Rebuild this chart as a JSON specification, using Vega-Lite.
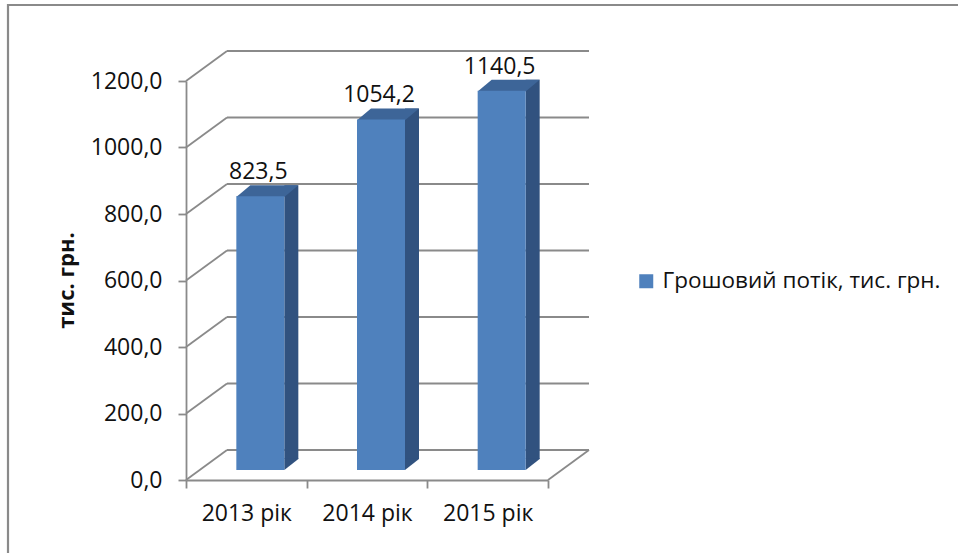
{
  "$schema": "https://vega.github.io/schema/vega-lite/v6.json",
  "autosize": {"type": "none"},
  "width": 950,
  "height": 548,
  "padding": {"left": 8, "top": 5, "right": 0, "bottom": 0},
  "background": "white",
  "view": {"fill": "white", "stroke": "#8a8a8a", "strokeWidth": 2.2, "strokeDash": [950, 1498, 548]},
  "config": {
    "locale": {"number": {"decimal": ",", "thousands": " ", "grouping": [3], "currency": ["", " грн."]}},
    "font": "Open Sans",
    "axis": {"labelFont": "Open Sans", "titleFont": "Open Sans"},
    "legend": {"labelFont": "Open Sans"}
  },
  "datasets": {
    "flows": [
      {"year": "2013 рік", "value": 823.5},
      {"year": "2014 рік", "value": 1054.2},
      {"year": "2015 рік", "value": 1140.5}
    ],
    "ticks": [
      {"v": 0}, {"v": 200}, {"v": 400}, {"v": 600}, {"v": 800}, {"v": 1000}, {"v": 1200}
    ]
  },
  "encoding": {
    "x": {
      "field": "year",
      "type": "nominal",
      "sort": null,
      "scale": {"type": "band", "domain": ["2013 рік", "2014 рік", "2015 рік"], "range": [178, 540], "paddingInner": 0, "paddingOuter": 0},
      "axis": {
        "title": null,
        "offset": -73,
        "grid": false,
        "tickBand": "extent",
        "tickSize": 8,
        "tickWidth": 1.8,
        "tickColor": "#8a8a8a",
        "domainColor": "#8a8a8a",
        "domainWidth": 1.8,
        "labelFontSize": 23,
        "labelColor": "#111111",
        "labelPadding": 14,
        "labelAngle": 0
      }
    },
    "y": {
      "type": "quantitative",
      "scale": {"domain": [0, 1200], "range": [475, 76], "nice": false, "zero": true},
      "axis": {
        "title": "тис. грн.",
        "offset": -178,
        "grid": false,
        "values": [0, 200, 400, 600, 800, 1000, 1200],
        "format": ".1f",
        "tickSize": 8,
        "tickWidth": 1.8,
        "tickColor": "#8a8a8a",
        "domainColor": "#8a8a8a",
        "domainWidth": 1.8,
        "labelFontSize": 23,
        "labelColor": "#111111",
        "labelPadding": 16,
        "titleFontSize": 22,
        "titleFontWeight": "bold",
        "titleColor": "#111111",
        "titleX": -120,
        "titleY": 275,
        "titleAngle": 270,
        "titleAlign": "center",
        "titleBaseline": "middle"
      }
    }
  },
  "layer": [
    {
      "data": {"name": "ticks"},
      "mark": {"type": "rule", "color": "#8a8a8a", "strokeWidth": 1.8, "xOffset": 41, "x2Offset": 41, "yOffset": -30},
      "encoding": {
        "x": {"datum": "2013 рік", "bandPosition": 0},
        "x2": {"datum": "2015 рік", "bandPosition": 1},
        "y": {"field": "v", "type": "quantitative"}
      }
    },
    {
      "data": {"name": "ticks"},
      "mark": {"type": "rule", "color": "#8a8a8a", "strokeWidth": 1.8, "x2Offset": 41, "y2Offset": -30},
      "encoding": {
        "x": {"datum": "2013 рік", "bandPosition": 0},
        "x2": {"datum": "2013 рік", "bandPosition": 0},
        "y": {"field": "v", "type": "quantitative"},
        "y2": {"field": "v"}
      }
    },
    {
      "data": {"name": "ticks"},
      "transform": [{"filter": "datum.v === 0"}],
      "mark": {"type": "rule", "color": "#8a8a8a", "strokeWidth": 1.8, "x2Offset": 41, "y2Offset": -30},
      "encoding": {
        "x": {"datum": "2015 рік", "bandPosition": 1},
        "x2": {"datum": "2015 рік", "bandPosition": 1},
        "y": {"field": "v", "type": "quantitative"},
        "y2": {"field": "v"}
      }
    },
    {
      "data": {"name": "flows"},
      "mark": {"type": "bar", "color": "#31527F", "size": 14, "xOffset": 45, "yOffset": -21, "y2Offset": -21},
      "encoding": {
        "y": {"field": "value", "type": "quantitative"},
        "y2": {"datum": 0}
      }
    },
    {
      "data": {"name": "flows"},
      "mark": {"type": "point", "shape": "M-1,-0.9L1,-0.9L1,-0.786L-1,0.786Z", "filled": true, "opacity": 1, "strokeWidth": 0, "color": "#31527F", "size": 196, "xOffset": 45, "yOffset": -15.5},
      "encoding": {
        "y": {"datum": 0}
      }
    },
    {
      "data": {"name": "flows"},
      "mark": {"type": "point", "shape": "M-1,0.2L0.5484,0.2L1,-0.1774L-0.5484,-0.1774Z", "filled": true, "opacity": 1, "strokeWidth": 0, "color": "#3D6598", "size": 3844, "xOffset": 21, "yOffset": -15.5},
      "encoding": {
        "y": {"field": "value", "type": "quantitative"}
      }
    },
    {
      "data": {"name": "flows"},
      "mark": {"type": "bar", "size": 48, "xOffset": 14, "yOffset": -10, "y2Offset": -10},
      "encoding": {
        "y": {"field": "value", "type": "quantitative"},
        "y2": {"datum": 0},
        "color": {
          "datum": "Грошовий потік, тис. грн.",
          "type": "nominal",
          "scale": {"range": ["#4F81BD"]},
          "legend": {
            "title": null,
            "orient": "none",
            "legendX": 627,
            "legendY": 265,
            "padding": 0,
            "symbolType": "square",
            "symbolSize": 196,
            "symbolStrokeWidth": 0,
            "symbolOpacity": 1,
            "labelFontSize": 22.5,
            "labelColor": "#111111",
            "labelOffset": 5,
            "labelLimit": 0
          }
        }
      }
    },
    {
      "data": {"name": "flows"},
      "mark": {"type": "text", "align": "center", "baseline": "alphabetic", "dx": 12, "dy": -27, "fontSize": 23, "color": "#111111"},
      "encoding": {
        "y": {"field": "value", "type": "quantitative"},
        "text": {"field": "value", "type": "quantitative", "format": ".1f"}
      }
    }
  ]
}
